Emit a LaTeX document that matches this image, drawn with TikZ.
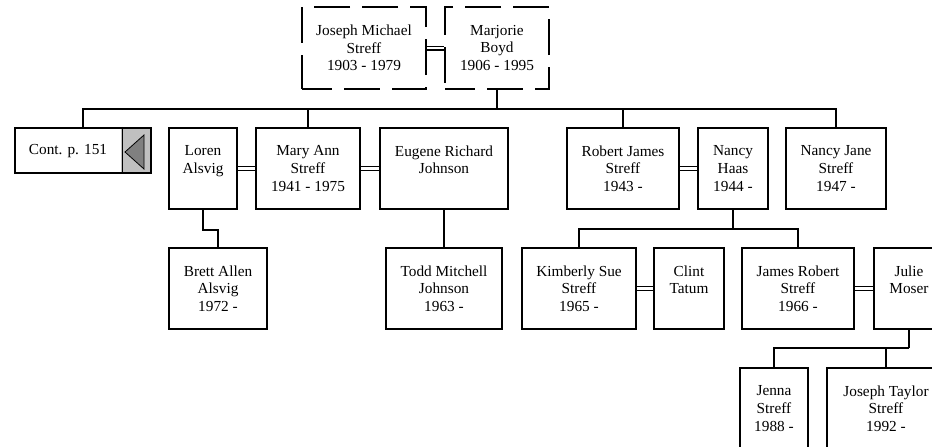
\documentclass[tikz,border=0pt]{standalone}
\usepackage{fontspec}
\setmainfont{Liberation Serif}
\usetikzlibrary{backgrounds}
\definecolor{lightgrey}{HTML}{C0C0C0}
\definecolor{midgrey}{HTML}{808080}
\begin{document}
\begin{tikzpicture}[x=1pt,y=-1pt,
  every node/.style={font=\fontsize{15.3}{17.7}\selectfont, align=center, inner sep=1pt},
  pbox/.style={draw, line width=2pt, minimum height=81pt},
  dbox/.style={draw, line width=1.1pt, dash pattern=on 36pt off 12pt, dash phase=6pt, minimum height=82pt},
  link/.style={line width=2pt},
  wed/.style={double, line width=1.1pt, double distance=2.8pt},
]
\clip (0,0) rectangle (932,447);
% generation 1
\node[dbox, minimum width=124pt] (joseph) at (364,48) {Joseph Michael\\Streff\\1903 - 1979};
\node[dbox, minimum width=104pt] (marjorie) at (497,48) {Marjorie\\Boyd\\1906 - 1995};
% generation 2
\node[draw, line width=2.2pt, minimum width=136pt, minimum height=45pt,
  path picture={\fill[lightgrey] ([xshift=-30pt]path picture bounding box.north east) rectangle (path picture bounding box.south east);}] (cont) at (83,150.5) {};
\draw[line width=0.8pt] ([xshift=-30pt]cont.north east) -- ([xshift=-30pt]cont.south east);
\node (conttext) at (68,151) {Cont. p. 151};
\filldraw[fill=midgrey, line width=0.8pt] (125,152) -- (144,135) -- (144,169) -- cycle;
\node[pbox, minimum width=68pt] (loren) at (203,168.5) {Loren\\Alsvig\\\phantom{1}};
\node[pbox, minimum width=104pt] (maryann) at (308,168.5) {Mary Ann\\Streff\\1941 - 1975};
\node[pbox, minimum width=128pt] (eugene) at (444,168.5) {Eugene Richard\\Johnson\\\phantom{1}};
\node[pbox, minimum width=112pt] (robert) at (623,168.5) {Robert James\\Streff\\1943 -};
\node[pbox, minimum width=70pt] (nancyhaas) at (733,168.5) {Nancy\\Haas\\1944 -};
\node[pbox, minimum width=100pt] (nancyjane) at (836,168.5) {Nancy Jane\\Streff\\1947 -};
% generation 3
\node[pbox, minimum width=98pt] (brett) at (218,288.5) {Brett Allen\\Alsvig\\1972 -};
\node[pbox, minimum width=116pt] (todd) at (444,288.5) {Todd Mitchell\\Johnson\\1963 -};
\node[pbox, minimum width=114pt] (kimberly) at (579,288.5) {Kimberly Sue\\Streff\\1965 -};
\node[pbox, minimum width=70pt] (clint) at (689,288.5) {Clint\\Tatum\\\phantom{1}};
\node[pbox, minimum width=112pt] (james) at (798,288.5) {James Robert\\Streff\\1966 -};
\node[pbox, minimum width=70pt] (julie) at (909,288.5) {Julie\\Moser\\\phantom{1}};
% generation 4
\node[pbox, minimum width=68pt] (jenna) at (774,408.5) {Jenna\\Streff\\1988 -};
\node[pbox, minimum width=118pt] (jt) at (886,408.5) {Joseph Taylor\\Streff\\1992 -};
% connectors
\begin{scope}[on background layer]
\coordinate (j1) at (497,109);
\coordinate (j2) at (733,229);
\coordinate (j3) at (909,348);
\draw[wed] (joseph.east) -- (marjorie.west);
\draw[wed] (loren.east) -- (maryann.west);
\draw[wed] (maryann.east) -- (eugene.west);
\draw[wed] (robert.east) -- (nancyhaas.west);
\draw[wed] (kimberly.east) -- (clint.west);
\draw[wed] (james.east) -- (julie.west);
\draw[link] (marjorie.south) -- (j1);
\draw[link] (cont.north) -- (cont.north |- j1) -- (nancyjane.north |- j1) -- (nancyjane.north);
\draw[link] (maryann.north) -- (maryann.north |- j1);
\draw[link] (robert.north) -- (robert.north |- j1);
\draw[link] (loren.south) -- ++(0,20) -| (brett.north);
\draw[link] (eugene.south) -- (todd.north);
\draw[link] (nancyhaas.south) -- (j2);
\draw[link] (kimberly.north) -- (kimberly.north |- j2) -- (james.north |- j2) -- (james.north);
\draw[link] (julie.south) -- (j3);
\draw[link] (jenna.north) -- (jenna.north |- j3) -- (j3);
\draw[link] (jt.north) -- (jt.north |- j3);
\end{scope}
\end{tikzpicture}
\end{document}
